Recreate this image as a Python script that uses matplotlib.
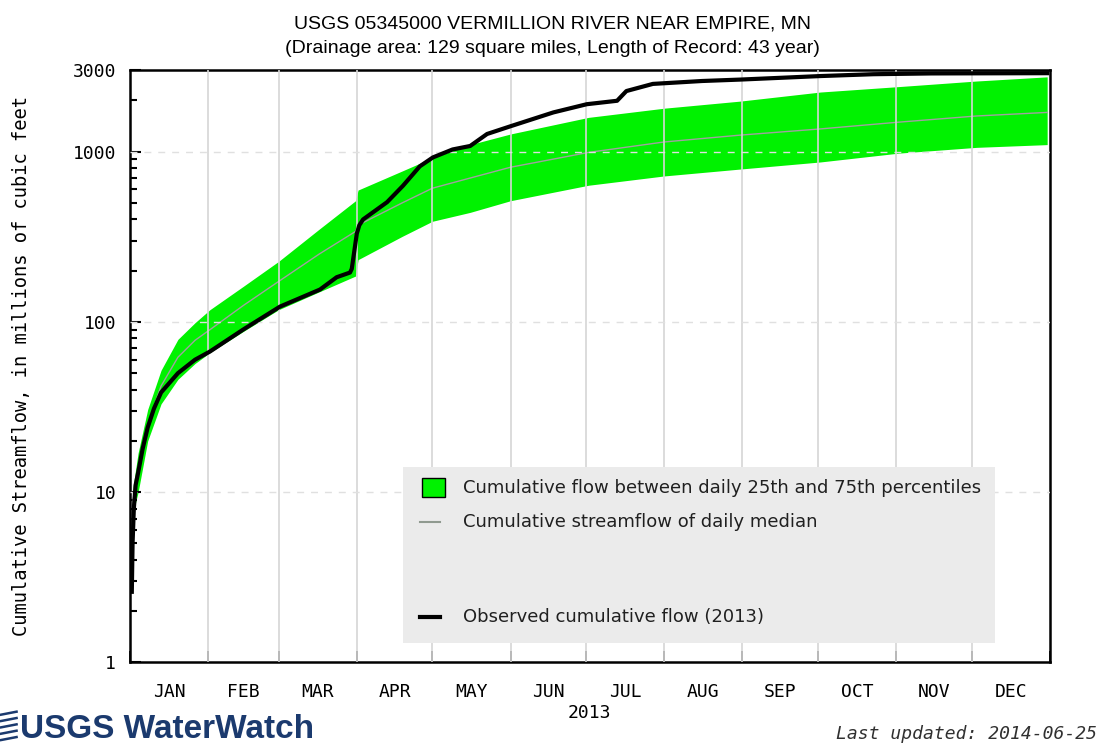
import matplotlib
matplotlib.use("Agg")
import matplotlib.pyplot as plt
from matplotlib.patches import Rectangle
from matplotlib.lines import Line2D
from matplotlib.ticker import FixedLocator, NullFormatter, FixedFormatter

# day of year (0 = Jan 1) and cumulative flow, millions of cubic feet
band_days = [0.5, 1.2, 3.2, 7, 12.3, 19, 25.8, 31.7, 45, 59, 75, 89.5, 90.5, 108, 120,
             135, 151, 182, 212, 242, 274, 305, 336, 364]
band_p75 = [6, 10.8, 17, 30.6, 52, 79, 99, 118, 162, 227, 350, 515, 595, 770, 920,
            1100, 1270, 1590, 1800, 1980, 2240, 2410, 2600, 2750]
band_p25 = [4, 7.6, 10, 20, 33, 46, 57, 66, 88, 118, 150, 186, 232, 318, 390,
            440, 515, 635, 720, 790, 870, 980, 1060, 1100]
median_flow = [5, 9, 13, 25, 42, 62, 78, 90, 125, 173, 250, 340, 370, 500, 610,
               700, 810, 990, 1140, 1250, 1360, 1490, 1620, 1700]

obs_days = [0.7, 1.0, 1.5, 2.2, 3.2, 5, 7, 9.5, 12.3, 19, 25.8, 31.7, 44.8, 59.5,
            75.4, 82, 87.3, 88, 89, 90, 91, 92.5, 102, 108.3, 115, 120.2, 128, 135,
            141.7, 151, 168, 181.3, 193.3, 197, 207.5, 227, 242, 274, 295, 318, 364]
obs_flow = [2.6, 5, 8, 11, 13, 18, 24, 31, 38.5, 50, 60, 67, 90, 123,
            155, 183, 195, 205, 260, 330, 370, 400, 505, 630, 820, 925, 1030, 1080,
            1270, 1410, 1700, 1900, 1990, 2270, 2500, 2600, 2650, 2780, 2850, 2880, 2890]

month_starts = [0, 31, 59, 90, 120, 151, 181, 212, 243, 273, 304, 334, 365]
month_names = ["JAN", "FEB", "MAR", "APR", "MAY", "JUN", "JUL", "AUG", "SEP",
               "OCT", "NOV", "DEC"]
y_ticks = [1, 10, 100, 1000, 3000]
y_minor = [2, 3, 4, 5, 6, 7, 8, 9, 20, 30, 40, 50, 60, 70, 80, 90,
           200, 300, 400, 500, 600, 700, 800, 900, 2000]

mono = "DejaVu Sans Mono"
sans = "Liberation Sans"

fig = plt.figure(figsize=(11.04, 7.46), dpi=100)
ax = fig.add_axes([0.1178, 0.112, 0.833, 0.7936])

ax.fill_between(band_days, band_p25, band_p75, color="#00f200", lw=0, zorder=1)
ax.plot(band_days, median_flow, color="#a0a0a0", lw=1, zorder=2)

# grid on top of the band
for d in month_starts[1:-1]:
    ax.axvline(d, color="#d6d6d6", lw=1.2, zorder=3)
for v in [10, 100, 1000]:
    ax.axhline(v, color="#e0e0e0", lw=1, ls=(0, (5, 5)), zorder=3)

ax.plot(obs_days, obs_flow, color="black", lw=3, zorder=4, solid_joinstyle="round")

ax.set_yscale("log")
ax.set_ylim(1, 3000)
ax.set_xlim(0, 365)

ax.yaxis.set_major_locator(FixedLocator(y_ticks))
ax.yaxis.set_major_formatter(FixedFormatter([str(v) for v in y_ticks]))
ax.yaxis.set_minor_locator(FixedLocator(y_minor))
ax.yaxis.set_minor_formatter(NullFormatter())
ax.tick_params(axis="y", which="major", direction="in", length=8, width=1.5,
               pad=10, labelsize=13)
ax.tick_params(axis="y", which="minor", direction="in", length=5, width=1.5)
for lab in ax.get_yticklabels():
    lab.set_family(mono)

mid_month = [(a + b) / 2 for a, b in zip(month_starts[:-1], month_starts[1:])]
ax.xaxis.set_major_locator(FixedLocator(month_starts))
ax.xaxis.set_major_formatter(NullFormatter())
ax.xaxis.set_minor_locator(FixedLocator(mid_month))
ax.xaxis.set_minor_formatter(FixedFormatter(month_names))
ax.tick_params(axis="x", which="major", direction="in", length=8, width=1.2)
ax.tick_params(axis="x", which="minor", length=0, pad=15, labelsize=13)
for lab in ax.get_xticklabels(minor=True):
    lab.set_family(mono)

for s in ax.spines.values():
    s.set_linewidth(1.8)

ax.set_ylabel("Cumulative Streamflow, in millions of cubic feet", family=mono,
              fontsize=13.5, labelpad=30)
ax.set_xlabel("2013", family=mono, fontsize=13, labelpad=2)

fig.text(0.5, 0.968, "USGS 05345000 VERMILLION RIVER NEAR EMPIRE, MN",
         ha="center", va="center", family=sans, fontsize=14)
fig.text(0.5, 0.935, "(Drainage area: 129 square miles, Length of Record: 43 year)",
         ha="center", va="center", family=sans, fontsize=14)

# legend panel
ax.add_patch(Rectangle((0.297, 0.033), 0.643, 0.297, transform=ax.transAxes,
                       facecolor="#ebebeb", edgecolor="none", zorder=5))
ax.add_patch(Rectangle((0.318, 0.279), 0.024, 0.032, transform=ax.transAxes,
                       facecolor="#00f200", edgecolor="black", lw=1, zorder=6))
ax.add_line(Line2D([0.315, 0.337], [0.238, 0.238], transform=ax.transAxes,
                   color="#909a90", lw=1.5, zorder=6))
ax.add_line(Line2D([0.315, 0.337], [0.077, 0.077], transform=ax.transAxes,
                   color="black", lw=3, zorder=6))
legend_text = [(0.295, "Cumulative flow between daily 25th and 75th percentiles"),
               (0.238, "Cumulative streamflow of daily median"),
               (0.077, "Observed cumulative flow (2013)")]
for ty, txt in legend_text:
    ax.text(0.362, ty, txt, transform=ax.transAxes, va="center", ha="left",
            family="DejaVu Sans", fontsize=13, color="#202020", zorder=6)

# footer
fig.text(0.018, 0.022, "USGS WaterWatch", ha="left", va="center", family=sans,
         fontsize=24, fontweight="bold", color="#1b3a6e")
for i in range(5):
    yy = 0.008 + i * 0.0085
    fig.add_artist(Line2D([0.001, 0.015], [yy, yy + 0.004], color="#1b3a6e",
                          lw=1.8, transform=fig.transFigure))
fig.text(0.994, 0.016, "Last updated: 2014-06-25", ha="right", va="center",
         family=mono, style="italic", fontsize=13, color="#303030")

fig.savefig("out.png", dpi=100)
